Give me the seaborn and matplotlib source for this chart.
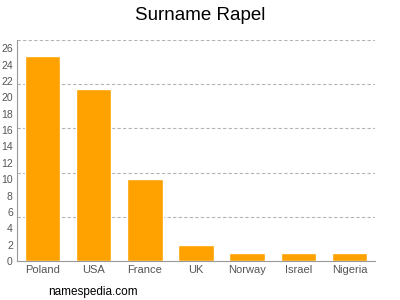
import matplotlib
matplotlib.use("Agg")
import matplotlib.pyplot as plt
import seaborn as sns
import pandas as pd
import numpy as np

countries = ["Poland", "USA", "France", "UK", "Norway", "Israel", "Nigeria"]
counts = [25, 21, 10, 2, 1, 1, 1]
yticks = list(range(0, 27, 2))

sns.set_style("white")
plt.rcParams['font.family'] = ['Liberation Sans', 'DejaVu Sans']

fig = plt.figure(figsize=(4, 3), dpi=100)
ax = fig.add_axes([0.0425, 0.13, 0.895, 0.7367])

df = pd.DataFrame({"country": countries, "count": counts})
sns.barplot(data=df, x="country", y="count", color="#FFA200", saturation=1,
            width=0.69, ax=ax)

ax.set_xlim(-0.5, 6.5)
ax.set_ylim(0, 27)
ax.set_yticks(yticks)
for g in np.arange(1, 6) * 5.4:
    ax.axhline(g, color="#b5b5b5", linestyle=(0, (3, 2)), linewidth=0.8, zorder=0)
ax.set_xlabel("")
ax.set_ylabel("")
for s in ["top", "right"]:
    ax.spines[s].set_visible(False)
for s in ["left", "bottom"]:
    ax.spines[s].set_color("#999999")
    ax.spines[s].set_linewidth(0.8)
ax.tick_params(axis="y", labelsize=7.5, colors="#555555", length=2, width=0.6, pad=1)
ax.tick_params(axis="x", labelsize=8, colors="#555555", length=0, pad=3)
for lbl in ax.get_xticklabels() + ax.get_yticklabels():
    lbl.set_color("#555555")

fig.text(0.5, 0.95, "Surname Rapel", ha="center", va="center", fontsize=13.5, color="black")
fig.text(0.12, 0.027, "namespedia.com", ha="left", va="center", fontsize=8.5, color="black")

fig.savefig("out.png", dpi=100)
